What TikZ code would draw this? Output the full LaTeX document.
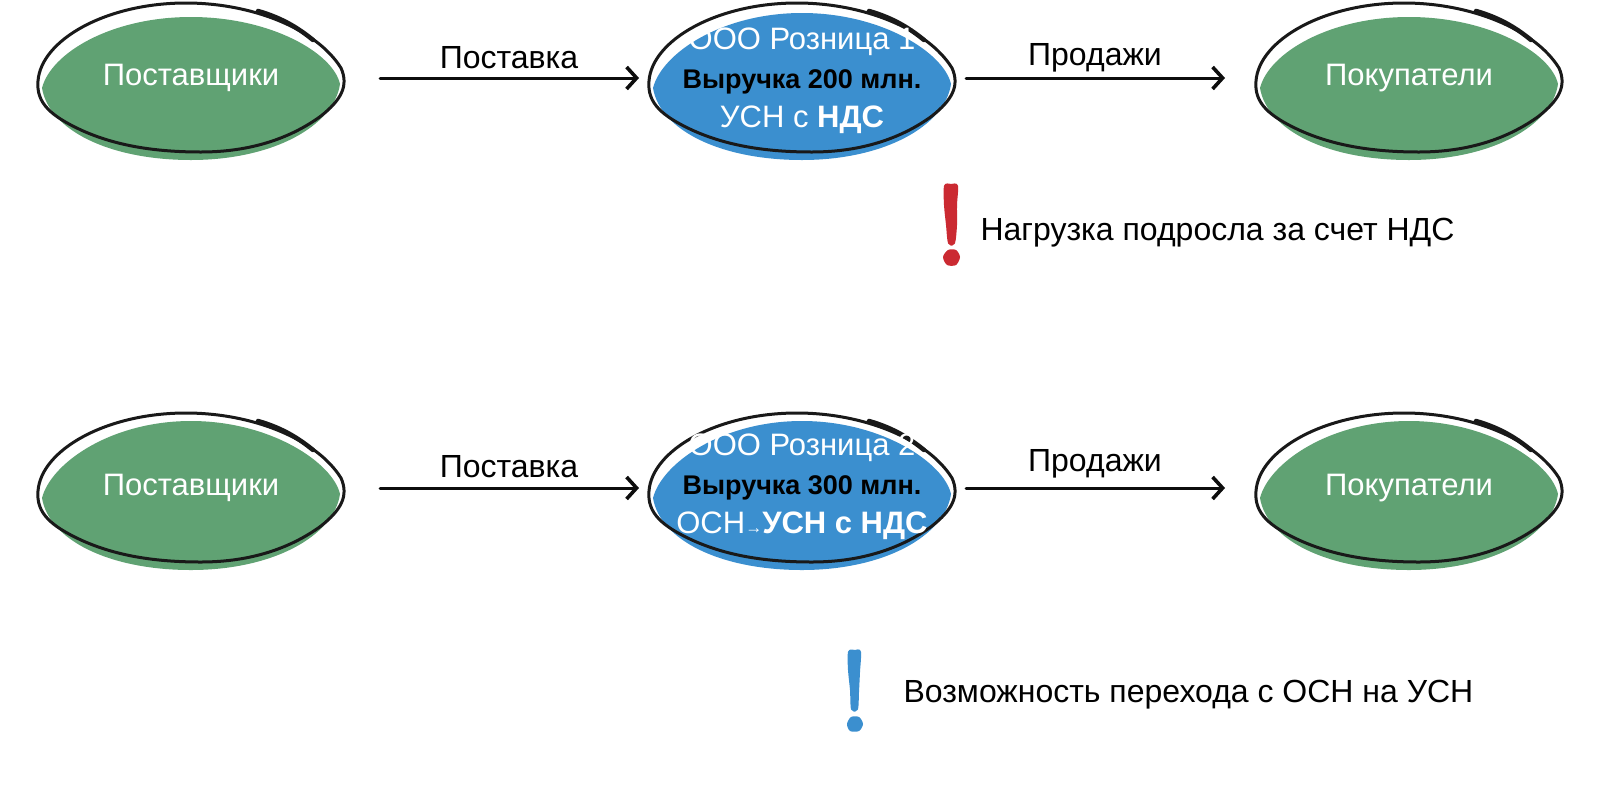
\documentclass[tikz,border=0pt]{standalone}
\usepackage{fontspec}
\setmainfont{Liberation Sans}
\usetikzlibrary{shapes.geometric, arrows.meta}

\definecolor{leafgreen}{HTML}{60A273}
\definecolor{skyblue}{HTML}{3B8FCF}
\definecolor{markred}{HTML}{CB2A32}

\tikzset{
  blobshape/.style={shape=ellipse, minimum width=306pt, minimum height=150pt, inner sep=0pt, outer sep=0pt},
  blobtext/.style={align=center, inner sep=0pt, text=white, font=\fontsize{31}{39}\selectfont},
  ring/.style={black!90, line width=3pt, line cap=round, line join=round},
  flow/.style={-{Straight Barb[length=10pt, width=22pt, line width=3.6pt]}, line width=3pt, line cap=round, black!95},
  caption/.style={font=\fontsize{32}{38}\selectfont, text=black},
}

% filled lens (#5 is its top), sketched outline, then the named nodes (#7 moves the text)
\newcommand{\blob}[7]{
  \begin{scope}[shift={(#2,#3)}]
    \fill[#4] (-149,10) .. controls (-140,-25) and (-80,#5) .. (0,#5)
      .. controls (80,#5) and (142,-25) .. (149,6)
      .. controls (143,48) and (82,82) .. (0,82)
      .. controls (-82,82) and (-142,52) .. (-149,10) -- cycle;
    \draw[ring] (-153,3) .. controls (-150,-38) and (-85,-75) .. (-5,-75)
      .. controls (60,-75) and (125,-50) .. (150,-10)
      .. controls (158,8) and (150,22) .. (130,38)
      .. controls (100,60) and (60,74) .. (10,74)
      .. controls (-35,74) and (-75,68) .. (-110,52)
      .. controls (-140,38) and (-155,25) .. (-153,3) -- cycle;
    \draw[ring, line width=4.5pt] (67,-67) .. controls (88,-61) and (105,-52) .. (122,-38);
    \node (#1) [blobshape] at (0,0) {};
    \node (#1txt) [blobtext] at (0,#7) {#6};
  \end{scope}
}

\begin{document}
\begin{tikzpicture}[x=1pt, y=-1pt]
\useasboundingbox (0,0) rectangle (1600,788);

% upper row
\blob{sup1}{191}{78}{leafgreen}{-61}{Поставщики}{0}
\blob{ret1}{802}{78}{skyblue}{-65}{ООО Розница 1\\ \fontsize{27}{39}\selectfont\bfseries\textcolor{black}{Выручка 200 млн.}\\ УСН с \textbf{НДС}}{3}
\blob{buy1}{1409}{78}{leafgreen}{-61}{Покупатели}{0}

\draw[flow, shorten <=36pt, shorten >=10pt] (sup1) -- (ret1);
\draw[flow, shorten <=11pt, shorten >=31pt] (ret1) -- (buy1);
\node (sup1lab) [caption] at (509,58) {Поставка};
\node (buy1lab) [caption] at (1095,58) {Продажи};

\fill[markred, draw=markred, line width=2pt, line join=round] plot[smooth cycle, tension=0.5] coordinates {(945,186) (951,185) (957,186) (956,205) (956,225) (954,243) (949,243) (947,225) (945,205)};
\fill[markred] plot[smooth cycle] coordinates {(943,257) (948,250) (956,250) (960,257) (956,265) (947,265)};
\node (note1) [caption, anchor=west] at (977,233) {Нагрузка подросла за счет НДС};

% lower row
\blob{sup2}{191}{488}{leafgreen}{-67}{Поставщики}{0}
\blob{ret2}{802}{488}{skyblue}{-67}{ООО Розница 2\\ \fontsize{27}{39}\selectfont\bfseries\textcolor{black}{Выручка 300 млн.}\\ ОСН{\fontsize{17}{17}\selectfont →}\textbf{УСН с НДС}}{-1}
\blob{buy2}{1409}{488}{leafgreen}{-67}{Покупатели}{0}

\draw[flow, shorten <=36pt, shorten >=10pt] (sup2) -- (ret2);
\draw[flow, shorten <=11pt, shorten >=31pt] (ret2) -- (buy2);
\node (sup2lab) [caption] at (509,467) {Поставка};
\node (buy2lab) [caption] at (1095,464) {Продажи};

\fill[skyblue, draw=skyblue, line width=2pt, line join=round] plot[smooth cycle, tension=0.5] coordinates {(849,652) (855,651) (860,652) (859,672) (858,692) (857,709) (852,709) (851,690) (849,670)};
\fill[skyblue] plot[smooth cycle] coordinates {(847,724) (851,717) (859,717) (863,724) (859,731) (850,731)};
\node (note2) [caption, anchor=west] at (900,695) {Возможность перехода с ОСН на УСН};
\end{tikzpicture}
\end{document}
